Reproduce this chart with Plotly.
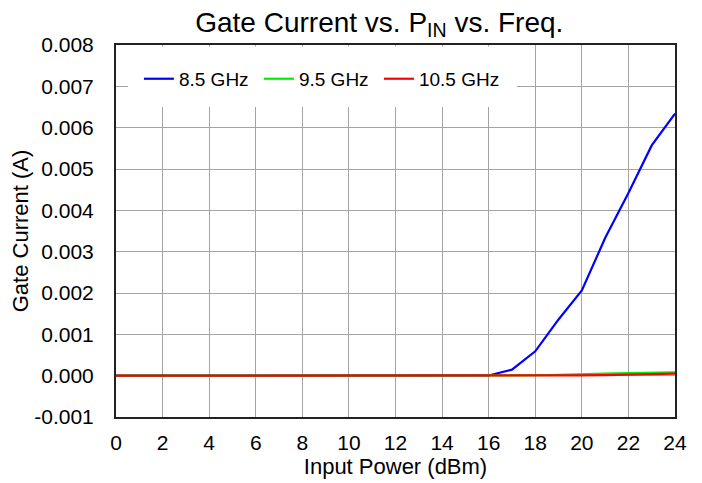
import plotly.graph_objects as go

pin_dbm = [0, 1, 2, 3, 4, 5, 6, 7, 8, 9, 10, 11, 12, 13, 14, 15, 16, 17, 18, 19, 20, 21, 22, 23, 24]
ig_8p5 = [0.0, 0.0, 0.0, 0.0, 0.0, 0.0, 0.0, 0.0, 0.0, 0.0, 0.0, 0.0, 0.0, 0.0, -0.000005, -0.000003,
          0.000005, 0.000145, 0.00059, 0.00136, 0.00206, 0.00333, 0.00442, 0.00557, 0.00634]
ig_9p5 = [0.0, 0.0, 0.0, 0.0, 0.0, 0.0, 0.0, 0.0, 0.0, 0.0, 0.0, 0.0, 0.0, 0.0, -0.000005, -0.000003,
          0.0, 0.000005, 0.00001, 0.00002, 0.00004, 0.00005, 0.00006, 0.00007, 0.00008]
ig_10p5 = [0.0, 0.0, 0.0, 0.0, 0.0, 0.0, 0.0, 0.0, 0.0, 0.0, 0.0, 0.0, 0.0, 0.0, -0.000005, -0.000003,
           0.0, 0.0, 0.0, 0.000003, 0.000008, 0.000015, 0.000025, 0.000035, 0.00005]

x_ticks = list(range(0, 25, 2))
y_ticks = [-0.001, 0.0, 0.001, 0.002, 0.003, 0.004, 0.005, 0.006, 0.007, 0.008]
y_labels = ["-0.001", "0.000", "0.001", "0.002", "0.003", "0.004", "0.005", "0.006", "0.007", "0.008"]

series = [("8.5 GHz", ig_8p5, "#0000ff"), ("9.5 GHz", ig_9p5, "#00ee00"), ("10.5 GHz", ig_10p5, "#ff0000")]

FONT = "Liberation Sans, Arial, sans-serif"
fig = go.Figure()
for name, ys, col in series:
    fig.add_trace(go.Scatter(x=pin_dbm, y=ys, mode="lines", name=name,
                             line=dict(color=col, width=2.2)))

# white panel behind the legend, hiding the grid there (no data falls in this region)
fig.add_shape(type="rect", xref="paper", yref="paper", x0=0.0215, x1=0.717, y0=0.833, y1=0.996,
              fillcolor="white", line=dict(width=0), layer="above")

# page body has an 8px margin, so the figure is sized to fit the window
fig.update_layout(
    width=694, height=475,
    margin=dict(l=108, r=27, t=37, b=66),
    paper_bgcolor="white", plot_bgcolor="white",
    font=dict(family=FONT, size=21, color="#000"),
    title=dict(text="Gate Current vs. P<sub>IN</sub> vs. Freq.", x=0.535, xanchor="center",
               y=0.971, yanchor="middle", font=dict(size=28, family=FONT)),
    showlegend=True,
    legend=dict(orientation="h", x=0.041, xanchor="left", y=0.96, yanchor="top",
                bgcolor="white", borderwidth=0, font=dict(size=19, family=FONT),
                entrywidth=75, tracegroupgap=0),
)
fig.update_xaxes(range=[0, 24], tickvals=x_ticks, showgrid=True, gridcolor="#a4a4a4", gridwidth=1,
                 showline=True, linecolor="#222", linewidth=2, mirror=True, zeroline=False,
                 ticks="", ticklabelstandoff=6, automargin=False,
                 title=dict(text="Input Power (dBm)", font=dict(size=22), standoff=4))
fig.update_yaxes(range=[-0.001, 0.008], tickvals=y_ticks, ticktext=y_labels, showgrid=True,
                 gridcolor="#a4a4a4", gridwidth=1,
                 showline=True, linecolor="#222", linewidth=2, mirror=True, zeroline=False,
                 ticks="", ticklabelstandoff=16, automargin=False,
                 title=dict(text="Gate Current (A)", font=dict(size=22), standoff=6))

fig.write_html("out.html")
